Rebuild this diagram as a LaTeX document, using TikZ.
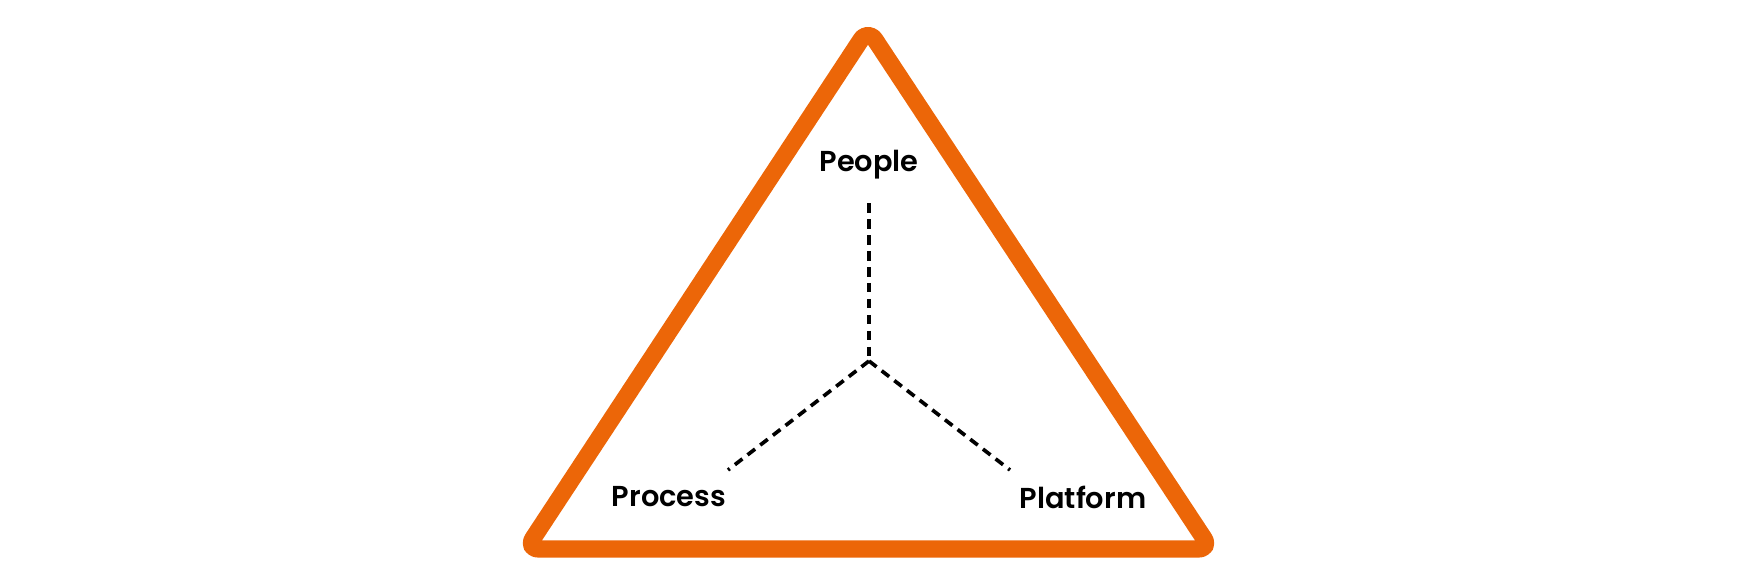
\documentclass[tikz,border=0pt]{standalone}
\usepackage{fontspec}
\setmainfont{Poppins}
\newfontfamily\labelfont{Poppins SemiBold}
\definecolor{triorange}{HTML}{EC6608}
\begin{document}
\begin{tikzpicture}[x=0.1mm, y=-0.1mm, thick,
  label/.style={font=\labelfont\fontsize{8.2}{10}\selectfont, inner sep=0pt},
  link/.style={line width=1.05pt, dash pattern=on 0.95mm off 0.65mm}]
  \useasboundingbox (0,0) rectangle (1738,574);
  \draw[triorange, line width=4.9pt, line join=round, rounded corners=1.3mm]
    (868,29) -- (1211,549) -- (526,549) -- cycle;

  \node[label] (Pe) at (869,165) {People};
  \node[label] (Pr) at (669,497) {Process};
  \node[label] (Pl) at (1083,497) {Platform};
  \coordinate (C) at (869,361);
  \coordinate (Ca) at (869,203);
  \coordinate (Cb) at (728,470);
  \coordinate (Cc) at (1010,470);

  \draw[link] (Ca) -- (C);
  \draw[link] (C) -- (Cb);
  \draw[link] (C) -- (Cc);
\end{tikzpicture}
\end{document}
